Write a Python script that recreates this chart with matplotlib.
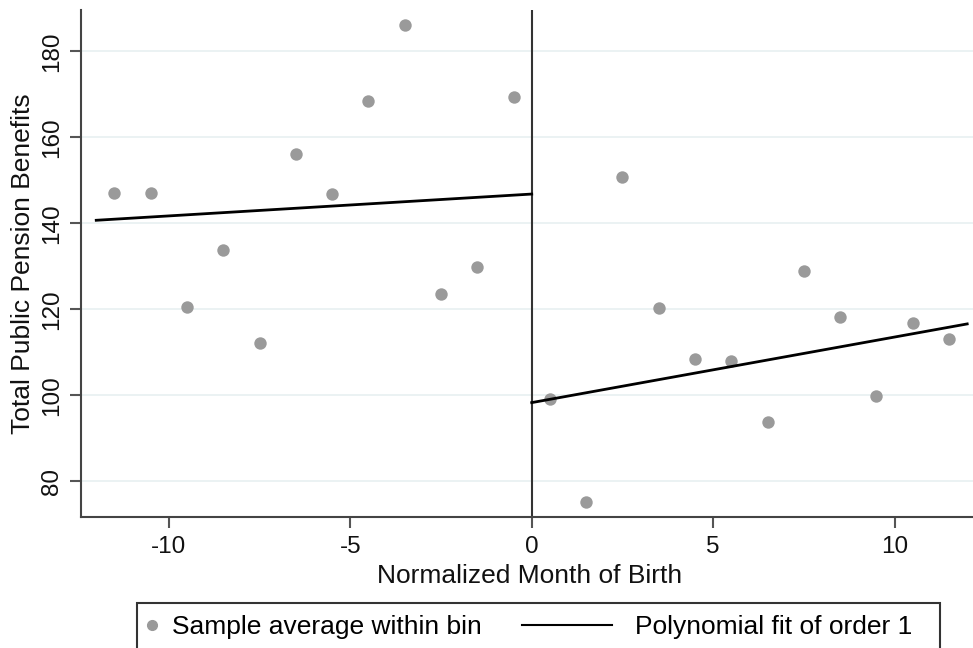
import numpy as np
import matplotlib
matplotlib.use('Agg')
import matplotlib.pyplot as plt
from matplotlib.lines import Line2D
from matplotlib.patches import Rectangle

plt.rcParams['font.family'] = ['Liberation Sans', 'DejaVu Sans']
plt.rcParams['axes.unicode_minus'] = False

# bin midpoints and bin averages
bins = [-11.5, -10.5, -9.5, -8.5, -7.5, -6.5, -5.5, -4.5, -3.5, -2.5, -1.5, -0.5,
        0.5, 1.5, 2.5, 3.5, 4.5, 5.5, 6.5, 7.5, 8.5, 9.5, 10.5, 11.5]
averages = [147.1, 147.0, 120.6, 133.7, 112.2, 156.2, 146.8, 168.4, 186.1, 123.6, 129.8, 169.3,
            99.2, 75.2, 150.8, 120.3, 108.5, 108.0, 93.9, 129.0, 118.1, 99.8, 116.7, 113.2]

# linear fits on each side of the cutoff (end points)
fit_left_x = [-12, 0]
fit_left_y = [140.7, 146.8]
fit_right_x = [0, 12]
fit_right_y = [98.3, 116.6]

yticks = [80, 100, 120, 140, 160, 180]
xticks = [-10, -5, 0, 5, 10]

fig = plt.figure(figsize=(9.73, 6.48), dpi=100)
ax = fig.add_axes([81/973, 1-517/648, 892/973, 507/648])

ax.scatter(bins, averages, s=80, color='#9a9a9a', zorder=3, linewidths=0)
ax.plot(fit_left_x, fit_left_y, color='black', lw=2, zorder=4)
ax.plot(fit_right_x, fit_right_y, color='black', lw=2, zorder=4)
ax.axvline(0, color='#333333', lw=1.5, zorder=2)

ax.set_xlim(-12.42, 12.16)
ax.set_ylim(71.7, 189.6)
ax.set_yticks(yticks)
ax.set_xticks(xticks)
for t in yticks:
    ax.axhline(t, color='#e8f0f1', lw=1.2, zorder=1)

ax.spines['top'].set_visible(False)
ax.spines['right'].set_visible(False)
for s in ['left', 'bottom']:
    ax.spines[s].set_color('#444444')
    ax.spines[s].set_linewidth(1.5)
ax.tick_params(axis='both', direction='out', length=8, width=1.5, color='#555555',
               labelsize=17.5, labelcolor='#111111')
ax.tick_params(axis='x', pad=6)
ax.tick_params(axis='y', pad=5)
for lab in ax.get_yticklabels():
    lab.set_rotation(90)
    lab.set_va('center')

fig.text(23/973, 1-264/648, 'Total Public Pension Benefits', rotation=90,
         ha='center', va='center', fontsize=19, color='#111111')
fig.text(530/973, 1-576/648, 'Normalized Month of Birth',
         ha='center', va='center', fontsize=19, color='#111111')

# legend box
fig.patches.append(Rectangle((137/973, -0.05), (940-137)/973, 0.05+1-603/648,
                             transform=fig.transFigure, fill=False,
                             edgecolor='#333333', lw=1.5))
h1 = Line2D([], [], marker='o', ls='none', color='#9a9a9a', markersize=7)
h2 = Line2D([], [], color='black', lw=1.5)
fig.legend([h1], ['Sample average within bin'], loc='center left',
           bbox_to_anchor=(144/973, 1-627/648), frameon=False, fontsize=19,
           handlelength=0.6, handletextpad=0.46, borderpad=0, borderaxespad=0)
fig.legend([h2], ['Polynomial fit of order 1'], loc='center left',
           bbox_to_anchor=(522/973, 1-627/648), frameon=False, fontsize=19,
           handlelength=3.4, handletextpad=0.87, borderpad=0, borderaxespad=0)

fig.savefig('out.png', dpi=100)
